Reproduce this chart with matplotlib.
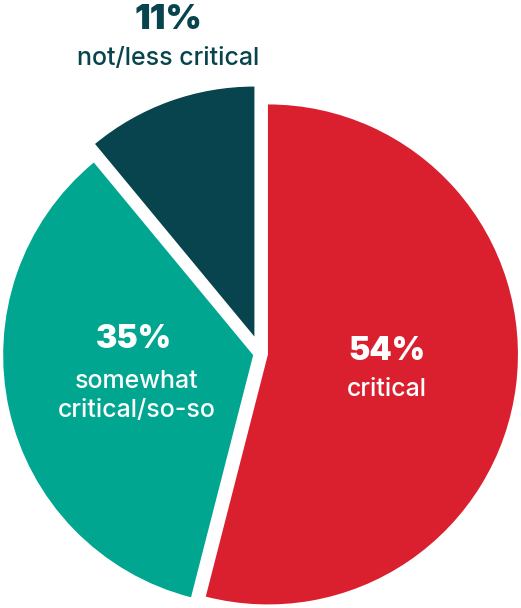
import matplotlib
matplotlib.use("Agg")
import matplotlib.pyplot as plt

# Share of responses by how critical the topic is rated
categories = ["critical", "somewhat\ncritical/so-so", "not/less critical"]
shares = [54, 35, 11]
colors = ["#DA202F", "#00A690", "#07444E"]
explode = [0.03, 0.03, 0.072]

W, H = 521, 608
fig = plt.figure(figsize=(W / 100, H / 100), dpi=100)
ax = fig.add_axes([0, 0, 1, 1])

ax.pie(shares, colors=colors, startangle=90, counterclock=False,
       explode=explode, radius=1.0,
       wedgeprops=dict(linewidth=0, antialiased=True))

# pie centre sits at (260.5, 353.5) px with a 250 px radius
cx, cy, r = 260.5, 353.5, 250.0
ax.set_xlim(-cx / r, (W - cx) / r)
ax.set_ylim(-(H - cy) / r, cy / r)
ax.set_aspect("equal")
ax.axis("off")


def px(x, y):
    return (x - cx) / r, (cy - y) / r


num_font = dict(family=["Inter", "DejaVu Sans"], fontweight="black")
lbl_font = dict(family=["Inter", "DejaVu Sans"], fontweight="medium")

label_pos = [((387, 351), (387, 390)),
             ((134, 340), (137, 396)),
             ((168, 20), (168, 58))]
text_colors = ["white", "white", "#07444E"]

for share, cat, (npos, lpos), tc in zip(shares, categories, label_pos, text_colors):
    ax.text(*px(*npos), f"{share}%", ha="center", va="center",
            fontsize=25 if tc != "white" else 23, color=tc, **num_font)
    ax.text(*px(*lpos), cat, ha="center", va="center", fontsize=18,
            color=tc, linespacing=1.3, **lbl_font)

fig.savefig("out.png", dpi=100, facecolor="white")
